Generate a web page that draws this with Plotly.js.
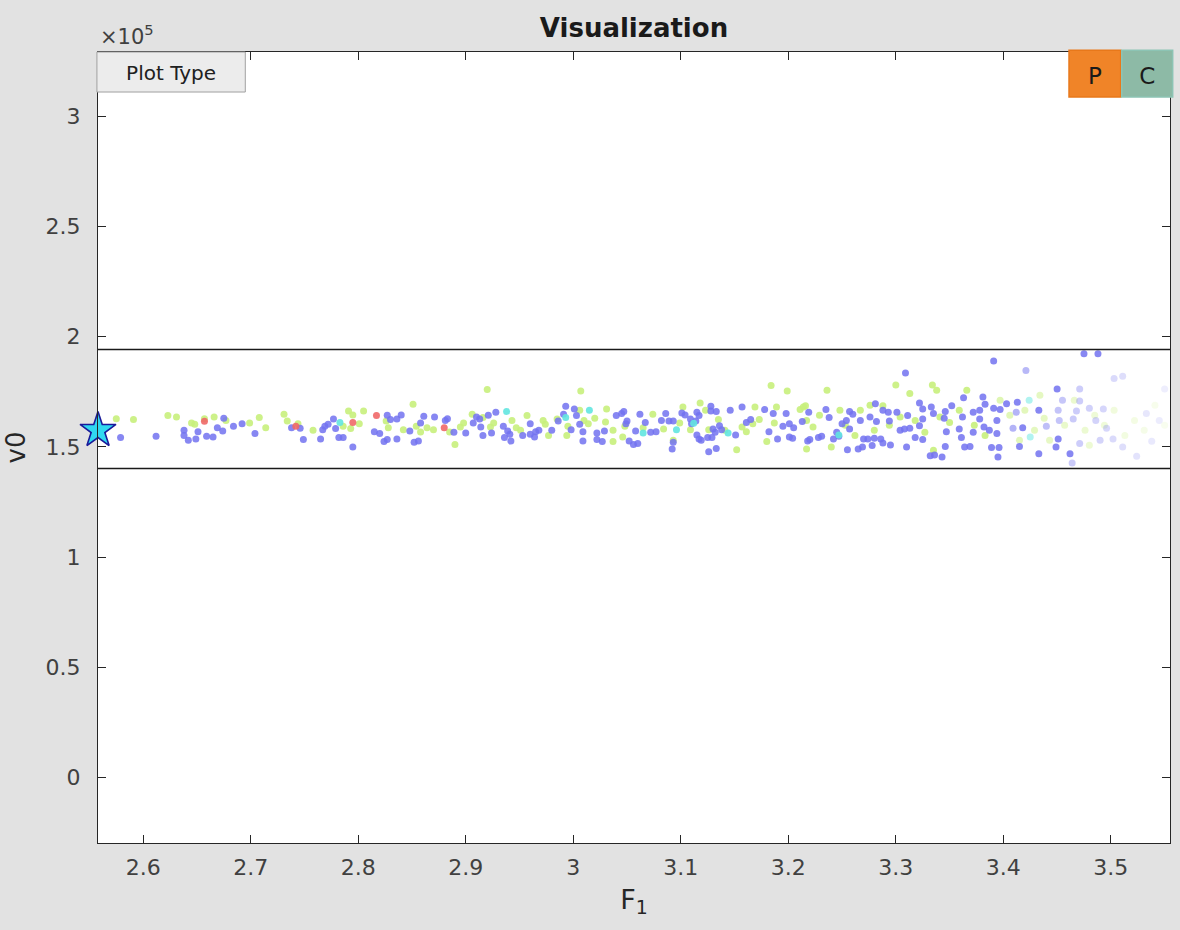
<!DOCTYPE html>
<html>
<head>
<meta charset="utf-8">
<script src="https://cdn.plot.ly/plotly-3.0.1.min.js"></script>
<style>
html,body{margin:0;padding:0;background:#e2e2e2;}
#chart{width:1180px;height:930px;}
</style>
</head>
<body>
<div id="chart"></div>
<script>
// ---- data (F1 on x, v0 on y) ----
const blueF1 = [2.579,2.612,2.638,2.638,2.642,2.649,2.651,2.659,2.665,2.669,2.674,2.675,2.684,2.692,2.704,
2.738,2.746,2.749,2.765,2.767,2.769,2.772,2.777,2.779,2.782,2.786,2.795,2.815,2.820,2.827,2.830,2.836,2.840,2.827,2.824,2.836,2.848,2.852,2.856,2.858,2.861,2.871,2.881,
2.883,2.889,2.900,2.907,2.910,2.913,2.914,2.916,2.921,2.924,2.928,2.935,2.939,2.941,2.936,2.942,2.953,2.960,2.960,2.965,2.968,2.964,2.980,2.986,2.993,2.991,2.998,3.001,3.003,3.006,3.009,3.009,3.022,3.022,3.027,3.029,3.040,3.045,3.047,3.049,3.052,
3.050,3.058,3.062,3.067,3.072,3.077,3.056,3.060,3.082,3.086,3.089,3.093,3.092,3.093,3.101,3.104,3.109,3.110,3.114,3.115,3.117,3.115,3.117,3.119,3.128,3.128,3.133,3.130,3.132,3.136,3.138,3.125,3.129,3.126,3.133,3.146,3.151,3.157,3.161,3.165,3.178,3.182,3.186,3.195,3.190,3.201,3.205,3.198,3.201,3.204,3.213,3.218,
3.309,3.363,3.381,3.281,3.322,3.352,3.219,3.235,3.238,3.257,3.260,3.254,3.288,3.293,3.301,3.325,3.333,3.335,3.346,3.372,3.378,3.383,3.276,3.267,3.250,3.294,3.282,3.311,3.325,3.345,3.362,3.378,3.245,3.247,3.242,3.220,3.228,3.231,3.257,3.270,3.274,3.280,3.286,3.288,3.295,3.304,3.308,3.313,3.318,3.325,3.322,3.347,3.359,3.361,3.372,3.382,3.255,3.265,3.269,3.278,3.310,3.332,3.336,3.343,3.346,3.364,3.369,
3.391,3.475,3.488,3.450,3.403,3.413,3.391,3.397,3.394,3.433,3.387,3.394,3.418,3.389,3.396,3.415,3.433,3.451,3.449,3.462,3.395];
const blueV0 = [154200,154800,157500,155100,153000,153600,156900,154800,154500,158700,157200,163000,159300,160500,156000,
158700,158400,153300,153600,157800,159300,160200,162600,158300,154200,154200,149900,156900,156000,164300,162400,162600,164400,153300,152400,153600,157200,152100,152600,160800,163900,163500,162000,
162800,156600,156300,160800,163500,162600,159000,155100,164300,156300,165700,159300,157200,155700,154200,152600,155100,160500,155700,156900,157500,154500,157500,161700,168400,164800,157800,167200,164200,160200,156900,152600,156300,153300,152400,157200,164200,165100,166000,160500,152600,
161700,157200,164800,161100,156600,156900,151100,151500,162000,165100,161700,161700,149000,152100,165400,164400,162600,160500,161700,165700,164200,155400,153600,153000,168400,166300,166000,158100,156600,159600,157800,154200,154200,147800,149200,166600,155400,168100,161100,162400,166900,156900,165100,159300,153600,160500,158700,165100,154500,153900,161500,152600,
183500,172300,172600,169600,169900,168700,165700,166900,163300,166000,164800,162000,166600,165700,165700,167200,168100,165100,166000,165700,166600,169300,163500,162000,160500,161700,161500,164200,162600,163000,163500,162600,156600,154800,153600,153300,154200,154800,158100,153600,153600,153900,153600,151700,150800,157500,158100,158400,154200,153300,159600,156900,158100,154200,156600,159000,148700,149000,149900,150600,149900,146000,146300,145400,150200,149900,150200,
189000,192300,192300,176200,169600,170200,167500,166900,162000,166600,157500,156000,158700,149700,149700,150200,146900,153600,149900,146900,145400];

const blueFadedF1 = [3.421,3.471,3.503,3.511,3.455,3.471,3.412,3.451,3.468,3.480,3.493,3.409,3.440,3.452,3.465,3.486,3.496,3.502,3.471,3.490,3.511,3.524,3.464,3.533,3.545,3.550,3.538];
const blueFadedV0 = [184700,176200,181000,182000,171100,170800,165700,166600,166300,167500,167200,158400,159300,162000,162600,162000,158400,153600,151500,153000,149900,145700,142700,165100,162000,176200,152500];

const greenF1 = [2.575,2.591,2.623,2.631,2.645,2.648,2.657,2.666,2.677,2.699,2.708,2.714,2.731,2.734,2.744,2.758,2.786,2.791,2.795,2.801,2.793,2.805,2.826,2.828,2.842,2.851,2.854,2.858,2.864,2.870,
2.920,2.885,2.890,2.895,2.898,2.906,2.916,2.923,2.926,2.943,2.947,2.951,2.957,2.972,2.974,2.977,2.985,2.995,2.994,3.007,3.006,3.010,3.014,3.020,3.031,3.030,3.037,3.037,3.046,
3.048,3.065,3.074,3.084,3.093,3.099,3.102,3.109,3.118,3.123,3.126,3.135,3.141,3.152,3.157,3.161,3.167,3.169,3.173,3.184,3.180,3.189,3.187,3.199,3.211,3.216,3.214,3.217,3.217,
3.300,3.334,3.236,3.313,3.338,3.366,3.288,3.248,3.304,3.341,3.223,3.240,3.335,3.229,3.253,3.267,3.280,3.294,3.318,3.327,3.350,3.359,3.373,3.383,3.262,3.276];
const greenV0 = [162800,162400,164200,163500,160800,160200,162800,163500,162000,160800,163300,158700,164800,161700,160500,157500,159300,166300,164400,160500,158300,166300,161700,158700,157800,169300,159300,156700,158700,157800,
176000,156700,151100,159000,160800,164800,163300,159000,160800,162000,158700,157500,164200,162000,160200,155200,162600,159300,155100,175300,166600,162000,160500,163000,167200,161300,157500,152400,154500,
159300,158700,164800,158100,153000,160800,168100,157800,169900,166600,157800,162400,157500,148700,159000,156900,160500,168100,162400,177800,152400,168100,160800,175300,166900,168700,168100,162000,149000,
178100,178100,175700,174200,175700,175700,168700,166600,163500,163500,159000,149900,148400,164300,159800,166600,157500,159800,162000,156600,161100,166600,159800,155200,155200,168900];

const greenFadedF1 = [3.397,3.406,3.420,3.429,3.438,3.443,3.457,3.466,3.476,3.485,3.494,3.503,3.513,3.522,3.531,3.541,3.550,3.434,3.480,3.415];
const greenFadedV0 = [171100,164300,166600,157500,163000,153000,159800,171100,157500,164300,159800,166600,155200,162000,157500,168900,159800,173400,150700,153000];

const redF1 = [2.657,2.742,2.795,2.817,2.880];
const redV0 = [161600,159300,161100,164200,158700];

const cyanF1 = [2.783,2.938,2.993,3.015,3.065,3.096,3.112,3.144,3.247];
const cyanV0 = [161100,166000,163300,166600,156300,157800,160700,156300,155400];
const cyanFadedF1 = [3.424,3.425];
const cyanFadedV0 = [171100,154500];

const bestF1 = [2.558];
const bestV0 = [157500];

const boundsV0 = [194200, 140200];

const xTicks = [2.6,2.7,2.8,2.9,3.0,3.1,3.2,3.3,3.4,3.5];
const xTickText = ['2.6','2.7','2.8','2.9','3','3.1','3.2','3.3','3.4','3.5'];
const yTicks = [0,50000,100000,150000,200000,250000,300000];
const yTickText = ['0','0.5','1','1.5','2','2.5','3'];

// ---- styling ----
const FONT = 'DejaVu Sans, sans-serif';
const BLUE = '#7272f0', GREEN = '#c8f07c', RED = '#f06868', CYAN = '#62e6e0';
const fade = xs => xs.map(x => Math.max(0.12, Math.min(0.6, 0.6 - (x - 3.39) * 3)));

function pts(x, y, color, opacity) {
  return {type:'scatter', mode:'markers', x:x, y:y, hoverinfo:'x+y', showlegend:false, cliponaxis:false,
    marker:{size:7, color:color, opacity:opacity, line:{width:0}}};
}

const traces = [
  pts(greenFadedF1, greenFadedV0, GREEN, fade(greenFadedF1)),
  pts(greenF1, greenV0, GREEN, 0.9),
  pts(blueFadedF1, blueFadedV0, BLUE, fade(blueFadedF1)),
  pts(blueF1, blueV0, BLUE, 0.85),
  pts(cyanFadedF1, cyanFadedV0, CYAN, fade(cyanFadedF1)),
  pts(redF1, redV0, RED, 0.9),
  pts(cyanF1, cyanV0, CYAN, 0.9),
  {type:'scatter', mode:'markers', x:bestF1, y:bestV0, showlegend:false, cliponaxis:false,
   marker:{symbol:'star', size:27, color:'#30d8f0', line:{color:'#1a1a9a', width:1.6}}}
];

const shapes = boundsV0.map(v => ({type:'line', xref:'paper', x0:0, x1:1, yref:'y', y0:v, y1:v,
  line:{color:'#1a1a1a', width:1.6}}));
// UI buttons (decorative)
shapes.push({type:'rect', xref:'paper', yref:'paper', x0:-0.001, x1:0.1374, y0:0.9494, y1:1.0, layer:'above',
  fillcolor:'#ececec', line:{color:'#a0a0a0', width:1},
  label:{text:'Plot Type', textposition:'middle center', font:{family:FONT, size:20, color:'#202020'}}});
shapes.push({type:'rect', xref:'paper', yref:'paper', x0:0.9058, x1:0.9540, y0:0.9431, y1:1.0022, layer:'above',
  fillcolor:'#f08428', line:{color:'#e8781a', width:1.5},
  label:{text:'P', textposition:'middle center', font:{family:FONT, size:23, color:'#1a1a1a'}}});
shapes.push({type:'rect', xref:'paper', yref:'paper', x0:0.9550, x1:1.0025, y0:0.9431, y1:1.0022, layer:'above',
  fillcolor:'#8dbaa6', line:{color:'#8cc4b4', width:1.5},
  label:{text:'C', textposition:'middle center', font:{family:FONT, size:23, color:'#1a1a1a'}}});

const annotations = [
  {xref:'paper', yref:'paper', x:0, y:1, xanchor:'left', yanchor:'bottom', yshift:1, text:'×10<sup>5</sup>',
   showarrow:false, font:{family:FONT, size:21, color:'#404040'}}
];

const axisBase = {showgrid:false, zeroline:false, showline:true, linecolor:'#262626', linewidth:1,
  mirror:'ticks', ticks:'inside', ticklen:8, tickwidth:1, tickcolor:'#262626',
  tickfont:{family:FONT, size:22, color:'#404040'}};

const layout = {
  width:1180, height:930,
  paper_bgcolor:'#e2e2e2', plot_bgcolor:'#ffffff',
  margin:{l:98, r:10, t:52, b:87},
  font:{family:FONT},
  title:{text:'<b>Visualization</b>', x:0.5, xref:'paper', xanchor:'center', y:0.97, yanchor:'middle',
    font:{family:FONT, size:26, color:'#1a1a1a'}},
  xaxis:Object.assign({}, axisBase, {range:[2.558, 3.555], tickvals:xTicks, ticktext:xTickText,
    ticklabelstandoff:5,
    title:{text:'F<sub>1</sub>', font:{family:FONT, size:27, color:'#262626'}, standoff:10}}),
  yaxis:Object.assign({}, axisBase, {range:[-29800, 329200], tickvals:yTicks, ticktext:yTickText,
    ticklabelstandoff:12,
    title:{text:'v0', font:{family:FONT, size:26, color:'#262626'}, standoff:12}}),
  shapes:shapes,
  annotations:annotations
};

Plotly.newPlot('chart', traces, layout, {displayModeBar:false, staticPlot:true});
</script>
</body>
</html>
